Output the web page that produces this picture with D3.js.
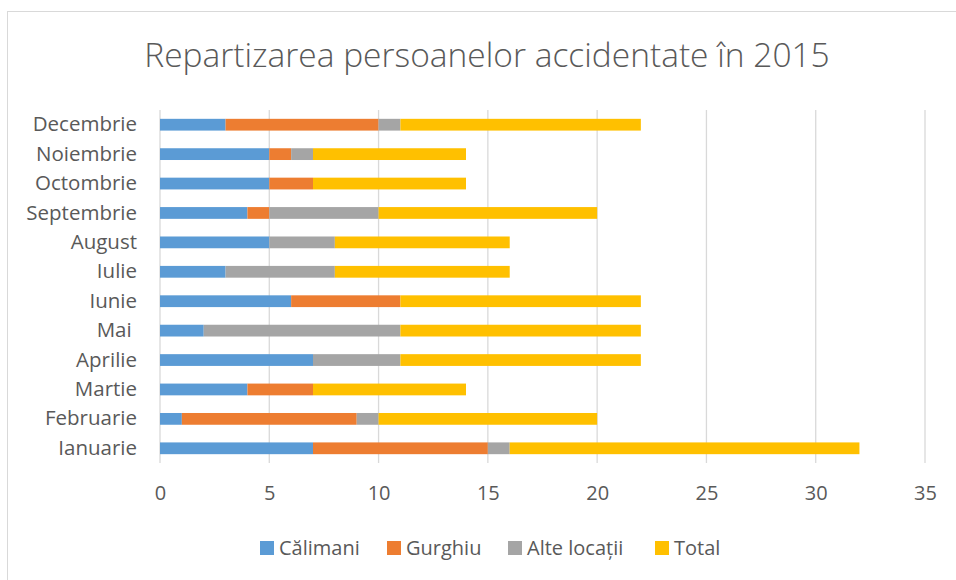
<!DOCTYPE html>
<html>
<head>
<meta charset="utf-8">
<script src="https://cdn.jsdelivr.net/npm/d3@7"></script>
<style>
  body { margin: 0; background: #fff; }
  svg { display: block; font-family: "Open Sans", "Noto Sans", sans-serif; }
  text { white-space: pre; }
</style>
</head>
<body>
<script>
// luni, de jos în sus ca în grafic
const months = ["Ianuarie", "Februarie", "Martie", "Aprilie", "Mai ", "Iunie",
  "Iulie", "August", "Septembrie", "Octombrie", "Noiembrie", "Decembrie"];
const seriesNames = ["Călimani", "Gurghiu", "Alte locații", "Total"];
const calimani = [7, 1, 4, 7, 2, 6, 3, 5, 4, 5, 5, 3];
const gurghiu  = [8, 8, 3, 0, 0, 5, 0, 0, 1, 2, 1, 7];
const alte     = [1, 1, 0, 4, 9, 0, 5, 3, 5, 0, 1, 1];
const total    = [16, 10, 7, 11, 11, 11, 8, 8, 10, 7, 7, 11];
const xTicks = [0, 5, 10, 15, 20, 25, 30, 35];
const colors = ["#5B9BD5", "#ED7D31", "#A5A5A5", "#FFC000"];

const width = 956, height = 580;
const margin = {top: 110, right: 31, bottom: 117, left: 160};

const rows = months.map((m, i) => ({
  month: m,
  "Călimani": calimani[i],
  "Gurghiu": gurghiu[i],
  "Alte locații": alte[i],
  "Total": total[i]
}));

const stacked = d3.stack().keys(seriesNames)(rows);

const svg = d3.select("body").append("svg")
    .attr("width", width)
    .attr("height", height);

// chenarul graficului
svg.append("rect")
    .attr("x", 7.5).attr("y", 11.5)
    .attr("width", 1000).attr("height", 1000)
    .attr("fill", "none")
    .attr("stroke", "#D9D9D9");

const x = d3.scaleLinear()
    .domain([0, 35])
    .range([margin.left, width - margin.right]);

const y = d3.scaleBand()
    .domain(months.slice().reverse())
    .range([margin.top, height - margin.bottom])
    .paddingInner(0.6)
    .paddingOuter(0.3);

// linii de grilă
svg.append("g")
  .selectAll("line")
  .data(xTicks)
  .join("line")
    .attr("x1", d => x(d)).attr("x2", d => x(d))
    .attr("y1", margin.top).attr("y2", height - margin.bottom)
    .attr("stroke", "#D9D9D9")
    .attr("stroke-width", 1.3);

// bare stivuite
svg.append("g")
  .selectAll("g")
  .data(stacked)
  .join("g")
    .attr("fill", (d, i) => colors[i])
  .selectAll("rect")
  .data(d => d)
  .join("rect")
    .attr("x", d => x(d[0]))
    .attr("y", d => y(d.data.month))
    .attr("width", d => x(d[1]) - x(d[0]))
    .attr("height", y.bandwidth());

// axa X
svg.append("g")
    .attr("transform", `translate(0,${height - margin.bottom})`)
    .call(d3.axisBottom(x).tickValues(xTicks).tickSize(0).tickPadding(23))
    .call(g => g.select(".domain").remove())
    .call(g => g.selectAll("text")
        .attr("fill", "#595959")
        .style("font-size", "20px")
        .style("font-family", "\"Open Sans\", sans-serif"));

// axa Y
svg.append("g")
    .attr("transform", `translate(${margin.left},0)`)
    .call(d3.axisLeft(y).tickSize(0).tickPadding(23))
    .call(g => g.select(".domain").remove())
    .call(g => g.selectAll("text")
        .attr("fill", "#595959")
        .style("font-size", "20.5px")
        .style("font-family", "\"Open Sans\", sans-serif"));

// titlu
svg.append("text")
    .attr("x", 487)
    .attr("y", 67)
    .attr("text-anchor", "middle")
    .attr("fill", "#595959")
    .style("font-size", "33.5px")
    .style("font-family", "\"Open Sans\", sans-serif")
    .style("font-weight", 300)
    .text("Repartizarea persoanelor accidentate în 2015");

// legenda
const legendX = [260, 387, 508, 655];
const legend = svg.append("g")
  .selectAll("g")
  .data(seriesNames)
  .join("g")
    .attr("transform", (d, i) => `translate(${legendX[i]},548)`);

legend.append("rect")
    .attr("x", 0).attr("y", -7)
    .attr("width", 14).attr("height", 14)
    .attr("fill", (d, i) => colors[i]);

legend.append("text")
    .attr("x", 19)
    .attr("dy", "0.35em")
    .attr("fill", "#595959")
    .style("font-size", "20px")
    .text(d => d);
</script>
</body>
</html>
